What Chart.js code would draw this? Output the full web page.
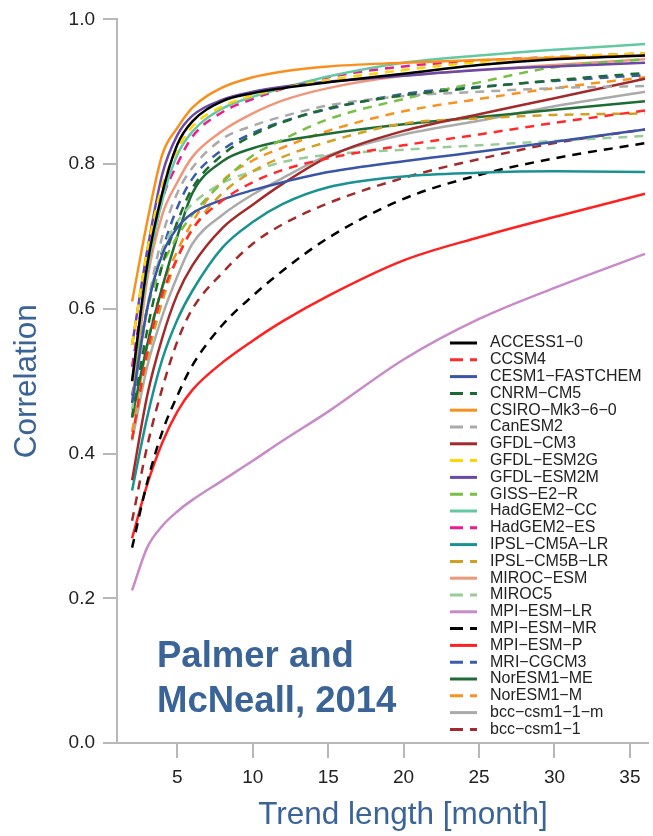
<!DOCTYPE html>
<html>
<head>
<meta charset="utf-8">
<script src="https://cdn.jsdelivr.net/npm/chart.js@4"></script>
<style>
  html, body { margin: 0; padding: 0; background: #fff; }
  canvas { display: block; }
</style>
</head>
<body>
<canvas id="corr-chart" width="653" height="836"></canvas>
<script>
// trend length (months) at which each correlation is read
const trendLength = [2, 3, 4, 5, 6, 8, 10, 12, 15, 20, 25, 30, 36];
const xTicks = [5, 10, 15, 20, 25, 30, 35];

const modelNames = [
  'ACCESS1−0', 'CCSM4', 'CESM1−FASTCHEM', 'CNRM−CM5', 'CSIRO−Mk3−6−0', 'CanESM2',
  'GFDL−CM3', 'GFDL−ESM2G', 'GFDL−ESM2M', 'GISS−E2−R', 'HadGEM2−CC', 'HadGEM2−ES',
  'IPSL−CM5A−LR', 'IPSL−CM5B−LR', 'MIROC−ESM', 'MIROC5', 'MPI−ESM−LR', 'MPI−ESM−MR',
  'MPI−ESM−P', 'MRI−CGCM3', 'NorESM1−ME', 'NorESM1−M', 'bcc−csm1−1−m', 'bcc−csm1−1'
];

const access1_0   = [0.50, 0.66, 0.76, 0.827, 0.859, 0.887, 0.898, 0.905, 0.913, 0.925, 0.937, 0.945, 0.950];
const ccsm4       = [0.42, 0.54, 0.62, 0.67, 0.71, 0.75, 0.775, 0.792, 0.808, 0.826, 0.841, 0.857, 0.874];
const cesm1       = [0.47, 0.60, 0.675, 0.712, 0.732, 0.751, 0.764, 0.775, 0.789, 0.804, 0.817, 0.831, 0.848];
const cnrm        = [0.45, 0.57, 0.66, 0.72, 0.767, 0.813, 0.840, 0.858, 0.877, 0.895, 0.906, 0.916, 0.926];
const csiro       = [0.61, 0.72, 0.813, 0.850, 0.878, 0.906, 0.920, 0.928, 0.935, 0.940, 0.944, 0.947, 0.950];
const canesm2     = [0.45, 0.60, 0.70, 0.76, 0.795, 0.835, 0.853, 0.866, 0.881, 0.894, 0.900, 0.905, 0.908];
const gfdlCm3     = [0.363, 0.48, 0.56, 0.62, 0.66, 0.712, 0.744, 0.773, 0.810, 0.846, 0.869, 0.891, 0.918];
const gfdlEsm2g   = [0.55, 0.68, 0.77, 0.82, 0.852, 0.880, 0.895, 0.905, 0.916, 0.930, 0.941, 0.948, 0.953];
const gfdlEsm2m   = [0.55, 0.68, 0.786, 0.84, 0.867, 0.889, 0.900, 0.907, 0.914, 0.922, 0.930, 0.935, 0.940];
const giss        = [0.50, 0.60, 0.66, 0.70, 0.73, 0.775, 0.812, 0.834, 0.862, 0.890, 0.913, 0.934, 0.945];
const hadgem2Cc   = [0.50, 0.65, 0.75, 0.813, 0.845, 0.877, 0.893, 0.905, 0.921, 0.940, 0.950, 0.958, 0.966];
const hadgem2Es   = [0.52, 0.65, 0.75, 0.80, 0.838, 0.872, 0.890, 0.904, 0.920, 0.935, 0.943, 0.948, 0.953];
const ipslCm5a    = [0.349, 0.45, 0.53, 0.585, 0.625, 0.685, 0.72, 0.745, 0.768, 0.783, 0.788, 0.790, 0.789];
const ipslCm5b    = [0.42, 0.53, 0.61, 0.67, 0.71, 0.76, 0.79, 0.81, 0.831, 0.856, 0.863, 0.868, 0.870];
const mirocEsm    = [0.47, 0.64, 0.73, 0.775, 0.81, 0.846, 0.870, 0.888, 0.905, 0.922, 0.930, 0.937, 0.945];
const miroc5      = [0.46, 0.60, 0.68, 0.72, 0.745, 0.774, 0.79, 0.803, 0.813, 0.820, 0.826, 0.832, 0.839];
const mpiEsmLr    = [0.211, 0.27, 0.300, 0.32, 0.336, 0.363, 0.39, 0.418, 0.458, 0.530, 0.586, 0.629, 0.676];
const mpiEsmMr    = [0.27, 0.36, 0.43, 0.48, 0.522, 0.578, 0.618, 0.653, 0.698, 0.752, 0.785, 0.808, 0.829];
const mpiEsmP     = [0.283, 0.357, 0.415, 0.458, 0.488, 0.526, 0.556, 0.583, 0.618, 0.667, 0.699, 0.727, 0.759];
const mri         = [0.48, 0.60, 0.68, 0.74, 0.78, 0.82, 0.843, 0.859, 0.876, 0.897, 0.907, 0.915, 0.923];
const noresm1Me   = [0.45, 0.55, 0.63, 0.70, 0.76, 0.804, 0.822, 0.832, 0.842, 0.855, 0.865, 0.875, 0.887];
const noresm1M    = [0.43, 0.55, 0.63, 0.68, 0.72, 0.777, 0.805, 0.823, 0.846, 0.873, 0.890, 0.905, 0.920];
const bccCsm11m   = [0.418, 0.52, 0.59, 0.645, 0.69, 0.73, 0.758, 0.781, 0.812, 0.841, 0.860, 0.880, 0.900];
const bccCsm11    = [0.307, 0.41, 0.49, 0.555, 0.60, 0.65, 0.69, 0.717, 0.746, 0.781, 0.807, 0.829, 0.848];

const series = [
  access1_0, ccsm4, cesm1, cnrm, csiro, canesm2, gfdlCm3, gfdlEsm2g, gfdlEsm2m, giss,
  hadgem2Cc, hadgem2Es, ipslCm5a, ipslCm5b, mirocEsm, miroc5, mpiEsmLr, mpiEsmMr,
  mpiEsmP, mri, noresm1Me, noresm1M, bccCsm11m, bccCsm11
];

// line styles
const colors = [
  '#000000', '#ff2a2a', '#3a55a8', '#1b6b30', '#f7901e', '#aaaaaa',
  '#a32a2a', '#ffd400', '#6a4aa6', '#78c043', '#62c9a3', '#ec1c8c',
  '#1a9292', '#d4a024', '#f0977a', '#98cc98', '#c98ac9', '#000000',
  '#ff2020', '#3a5bb0', '#1e6b36', '#f7931e', '#aaaaaa', '#a32a2a'
];
const dashed = [false, true, false, true, false, true, false, true, false, true, false, true,
                false, true, false, true, false, true, false, true, false, true, false, true];

const blue = '#3a6497';
const font = '"Liberation Sans", Arial, sans-serif';

const extras = {
  id: 'extras',
  afterDraw(chart) {
    const ctx = chart.ctx;
    ctx.save();
    // legend inside the plot
    ctx.font = '16px ' + font;
    ctx.textBaseline = 'middle';
    ctx.textAlign = 'left';
    chart.data.datasets.forEach((ds, i) => {
      const y = 343 + i * 16.8;
      ctx.strokeStyle = ds.borderColor;
      ctx.lineWidth = 3;
      ctx.setLineDash(ds.borderDash.length ? [13, 7] : []);
      ctx.beginPath();
      ctx.moveTo(450, y);
      ctx.lineTo(477, y);
      ctx.stroke();
      ctx.fillStyle = '#222';
      ctx.fillText(ds.label, 490, y);
    });
    ctx.setLineDash([]);
    // x axis title
    ctx.fillStyle = blue;
    ctx.font = '31.5px ' + font;
    ctx.textAlign = 'center';
    ctx.fillText('Trend length [month]', 403, 815);
    // citation
    ctx.font = 'bold 36.5px ' + font;
    ctx.textAlign = 'left';
    ctx.textBaseline = 'alphabetic';
    ctx.fillText('Palmer and', 157, 667);
    ctx.fillText('McNeall, 2014', 157, 712);
    ctx.restore();
  }
};

const datasets = modelNames.map((name, i) => ({
  label: name,
  data: trendLength.map((x, j) => ({ x: x, y: series[i][j] })),
  borderColor: colors[i],
  borderWidth: 2.5,
  borderDash: dashed[i] ? [9, 7] : [],
  pointRadius: 0,
  cubicInterpolationMode: 'monotone',
  fill: false
}));

new Chart(document.getElementById('corr-chart'), {
  type: 'line',
  data: { datasets: datasets },
  options: {
    responsive: false,
    animation: false,
    layout: { padding: { top: 18, right: 5, left: 0, bottom: 0 } },
    plugins: { legend: { display: false }, tooltip: { enabled: false } },
    scales: {
      x: {
        type: 'linear',
        min: 1,
        max: 36.2,
        afterBuildTicks: scale => { scale.ticks = xTicks.map(v => ({ value: v })); },
        afterFit: scale => { scale.height = 93; },
        border: { display: true, color: '#b8b8b8', width: 2 },
        grid: { drawOnChartArea: false, drawTicks: true, tickLength: 15, color: '#b8b8b8', lineWidth: 2 },
        ticks: { autoSkip: false, maxRotation: 0, padding: 8, color: '#222', font: { family: font, size: 19 } },
        title: { display: false }
      },
      y: {
        min: 0,
        max: 1,
        afterFit: scale => { scale.width = 117; },
        border: { display: true, color: '#b8b8b8', width: 2 },
        grid: { drawOnChartArea: false, drawTicks: true, tickLength: 14, color: '#b8b8b8', lineWidth: 2 },
        ticks: { stepSize: 0.2, padding: 8, color: '#222', font: { family: font, size: 19 },
                 callback: v => v.toFixed(1) },
        title: { display: true, text: 'Correlation', color: blue, padding: { top: 8, bottom: 0 },
                 font: { family: font, size: 31.5 } }
      }
    }
  },
  plugins: [extras]
});
</script>
</body>
</html>
